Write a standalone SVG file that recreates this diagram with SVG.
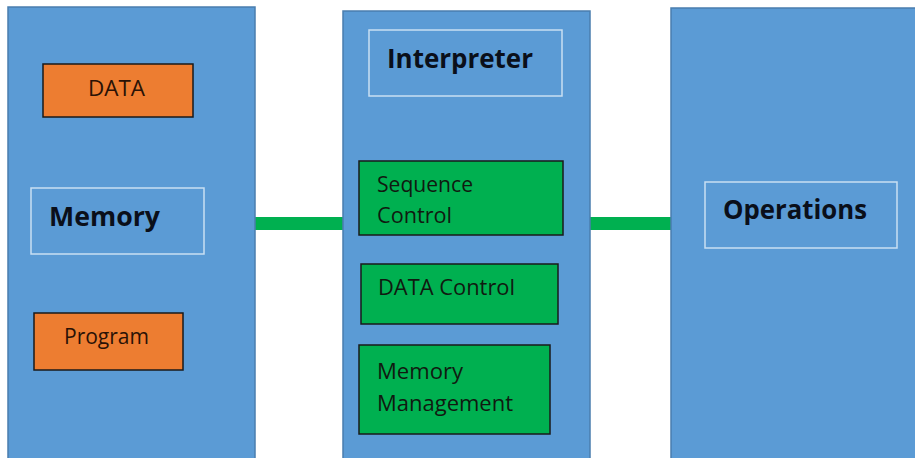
<svg xmlns="http://www.w3.org/2000/svg" width="915" height="458" viewBox="0 0 915 458">
<style>
.panel{fill:#5B9BD5;stroke:#4A7EAE;stroke-width:1.5}
.label{fill:none;stroke:#C9DFF2;stroke-width:1.5}
.orange{fill:#ED7D31;stroke:#1a1a1a;stroke-width:1.5}
.green{fill:#00B050;stroke:#1a1a1a;stroke-width:1.5}
.link{stroke:#00B050;stroke-width:13;fill:none}
.bold{font-family:"Open Sans","Liberation Sans",sans-serif;font-weight:bold;font-size:26px;fill:#0a0f1a}
.t{font-family:"Open Sans","Liberation Sans",sans-serif;font-size:21px;fill:#101a10}
.to{font-family:"Open Sans","Liberation Sans",sans-serif;font-size:21px;fill:#2a1206}
</style>
<rect width="915" height="458" fill="#ffffff"/>
<g id="connectors">
<line class="link" x1="255" y1="223.5" x2="344" y2="223.5"/>
<line class="link" x1="589" y1="223.5" x2="672" y2="223.5"/>
</g>
<g id="memory">
<rect class="panel" x="8" y="7" width="247" height="452"/>
<rect class="label" x="31" y="188" width="173" height="66"/>
<text class="bold" x="49" y="226" textLength="111" lengthAdjust="spacingAndGlyphs">Memory</text>
</g>
<g id="data">
<rect class="orange" x="43" y="64" width="150" height="53"/>
<text class="to" x="88" y="96" textLength="57" lengthAdjust="spacingAndGlyphs">DATA</text>
</g>
<g id="program">
<rect class="orange" x="34" y="313" width="149" height="57"/>
<text class="to" x="64" y="344" textLength="85" lengthAdjust="spacingAndGlyphs">Program</text>
</g>
<g id="interpreter">
<rect class="panel" x="343" y="11" width="247" height="448"/>
<rect class="label" x="369" y="30" width="193" height="66"/>
<text class="bold" x="387" y="68" textLength="146" lengthAdjust="spacingAndGlyphs">Interpreter</text>
</g>
<g id="sequence-control">
<rect class="green" x="359" y="161" width="204" height="74"/>
<text class="t" x="377" y="192" textLength="96" lengthAdjust="spacingAndGlyphs">Sequence</text>
<text class="t" x="377" y="223" textLength="75" lengthAdjust="spacingAndGlyphs">Control</text>
</g>
<g id="data-control">
<rect class="green" x="361" y="264" width="197" height="60"/>
<text class="t" x="378" y="295" textLength="137" lengthAdjust="spacingAndGlyphs">DATA Control</text>
</g>
<g id="memory-management">
<rect class="green" x="359" y="345" width="191" height="89"/>
<text class="t" x="377" y="379" textLength="86" lengthAdjust="spacingAndGlyphs">Memory</text>
<text class="t" x="377" y="411" textLength="136" lengthAdjust="spacingAndGlyphs">Management</text>
</g>
<g id="operations">
<rect class="panel" x="671" y="8" width="245" height="451"/>
<rect class="label" x="705" y="182" width="192" height="66"/>
<text class="bold" x="723" y="219" textLength="144" lengthAdjust="spacingAndGlyphs">Operations</text>
</g>
</svg>
